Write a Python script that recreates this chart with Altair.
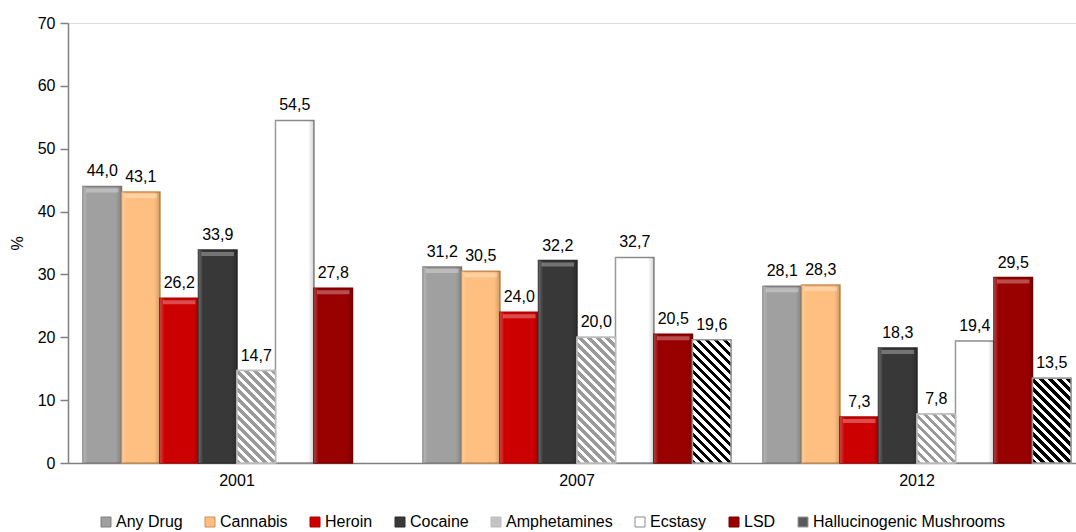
import altair as alt
import pandas as pd

years = ["2001", "2007", "2012"]
drugs = ["Any Drug", "Cannabis", "Heroin", "Cocaine", "Amphetamines",
         "Ecstasy", "LSD", "Hallucinogenic Mushrooms"]
any_drug = [44.0, 31.2, 28.1]
cannabis = [43.1, 30.5, 28.3]
heroin = [26.2, 24.0, 7.3]
cocaine = [33.9, 32.2, 18.3]
amphetamines = [14.7, 20.0, 7.8]
ecstasy = [54.5, 32.7, 19.4]
lsd = [27.8, 20.5, 29.5]
hallucinogenic = [None, 19.6, 13.5]

series = [any_drug, cannabis, heroin, cocaine, amphetamines, ecstasy, lsd, hallucinogenic]
fills = ["#a0a0a0", "#ffbf80", "#cc0000", "#383838", "#c4c4c4", "#ffffff", "#990000", "#5a5a5a"]
strokes = ["#7f7f7f", "#c89058", "#b00000", "#2c2c2c", "#bdbdbd", "#8a8a8a", "#7a0000", "#9a9a9a"]

rows = []
for d, vals in zip(drugs, series):
    for y, v in zip(years, vals):
        if v is not None:
            rows.append({"year": y, "drug": d, "value": v})
df = pd.DataFrame(rows)

# layout
W, H = 1008, 440
YMAX = 70
P_IN = 32 / 340
P_OUT = 0.0294
STEP = W / (3 - P_IN + 2 * P_OUT)
BAR_W = STEP * (1 - P_IN) / 8
FONT = "Liberation Sans"

x_enc = alt.X("year:N", sort=years, title=None,
              scale=alt.Scale(paddingInner=P_IN, paddingOuter=P_OUT, align=0.75),
              axis=alt.Axis(labelAngle=0, ticks=False, labelPadding=9, labelFontSize=16,
                            labelFont=FONT, labelColor="#000000", domainColor="#808080",
                            domainWidth=1.5))
xo_enc = alt.XOffset("drug:N", sort=drugs,
                     scale=alt.Scale(domain=drugs, paddingInner=0, paddingOuter=0))
y_enc = alt.Y("value:Q", title="%",
              scale=alt.Scale(domain=[0, YMAX], nice=False),
              axis=alt.Axis(values=list(range(0, 71, 10)), grid=False, tickSize=8,
                            tickColor="#808080", tickWidth=1.5, domainColor="#808080",
                            domainWidth=1.5, labelFontSize=16, labelFont=FONT,
                            labelColor="#000000", labelPadding=5, titleFont=FONT,
                            titleFontSize=16, titleFontWeight="normal", titleColor="#000000",
                            titlePadding=12))

base = alt.Chart(df)

bars = base.mark_bar(strokeWidth=1.5).encode(
    x=x_enc, xOffset=xo_enc, y=y_enc,
    color=alt.Color("drug:N", sort=drugs, title=None,
                    scale=alt.Scale(domain=drugs, range=fills),
                    legend=alt.Legend(orient="none", direction="horizontal",
                                      legendX=30, legendY=H + 51,
                                      symbolType="square", symbolSize=100,
                                      symbolStrokeColor="#888888", symbolStrokeWidth=1,
                                      labelFont=FONT, labelFontSize=16, labelColor="#000000",
                                      labelOffset=2, columnPadding=19, labelLimit=400)),
    stroke=alt.Stroke("drug:N", scale=alt.Scale(domain=drugs, range=strokes), legend=None),
)

shine = alt.LinearGradient(
    gradient="linear", x1=0, y1=0, x2=1, y2=0,
    stops=[alt.GradientStop(offset=0, color="rgba(255,255,255,0.25)"),
           alt.GradientStop(offset=0.12, color="rgba(255,255,255,0)"),
           alt.GradientStop(offset=0.85, color="rgba(0,0,0,0)"),
           alt.GradientStop(offset=1, color="rgba(0,0,0,0.18)")])

solid = ["Any Drug", "Cannabis", "Heroin", "Cocaine", "Ecstasy", "LSD"]
shine_layer = base.mark_bar(fill=shine, strokeOpacity=0).encode(
    x=alt.X("year:N", sort=years), xOffset=alt.XOffset("drug:N", sort=drugs), y="value:Q"
).transform_filter(alt.FieldOneOfPredicate(field="drug", oneOf=solid))

coloured = ["Any Drug", "Cannabis", "Heroin", "Cocaine", "LSD"]
bevel = base.mark_tick(thickness=4, size=BAR_W - 6, color="#ffffff", opacity=0.3).encode(
    x=alt.X("year:N", sort=years), xOffset=alt.XOffset("drug:N", sort=drugs), y="value:Q",
    yOffset=alt.value(4)
).transform_filter(alt.FieldOneOfPredicate(field="drug", oneOf=coloured))


def stripes(h_px, color, frac, period=9.0):
    r = BAR_W / h_px
    m = (r + 1) / (r * r + 1)
    u2 = m * r
    v2 = 1 - m
    n = (BAR_W + h_px) / period
    stops = []
    k = 0
    while k < n:
        a = k / n
        b = min((k + frac) / n, 1.0)
        c = min((k + 1) / n, 1.0)
        stops += [alt.GradientStop(offset=a, color=color),
                  alt.GradientStop(offset=b, color=color),
                  alt.GradientStop(offset=b, color="#ffffff"),
                  alt.GradientStop(offset=c, color="#ffffff")]
        k += 1
    return alt.LinearGradient(gradient="linear", x1=0, y1=1, x2=u2, y2=v2, stops=stops)


stripe_layers = []
for d, vals, col, frac, sc in [("Amphetamines", amphetamines, "#9a9a9a", 0.45, "#bdbdbd"),
                               ("Hallucinogenic Mushrooms", hallucinogenic, "#000000", 0.5, "#9a9a9a")]:
    for y, v in zip(years, vals):
        if v is None:
            continue
        h_px = v * H / YMAX
        layer = base.mark_bar(fill=stripes(h_px, col, frac), stroke=sc, strokeWidth=1.5).encode(
            x=alt.X("year:N", sort=years), xOffset=alt.XOffset("drug:N", sort=drugs), y="value:Q"
        ).transform_filter((alt.datum.drug == d) & (alt.datum.year == y))
        stripe_layers.append(layer)

labels = base.mark_text(baseline="alphabetic", dy=-10, fontSize=16, font=FONT,
                        color="#000000").encode(
    x=alt.X("year:N", sort=years), xOffset=alt.XOffset("drug:N", sort=drugs), y="value:Q",
    text="label:N"
).transform_calculate(label="replace(format(datum.value, '.1f'), '.', ',')")

chart = alt.layer(bars, shine_layer, bevel, *stripe_layers, labels).properties(
    width=W, height=H,
    autosize=alt.AutoSizeParams(type="none"),
    padding={"left": 68, "top": 23, "right": 0, "bottom": 69},
).configure_view(stroke=None).configure(background="#ffffff")

chart.save("out.html", embed_options={"renderer": "svg", "actions": False})
